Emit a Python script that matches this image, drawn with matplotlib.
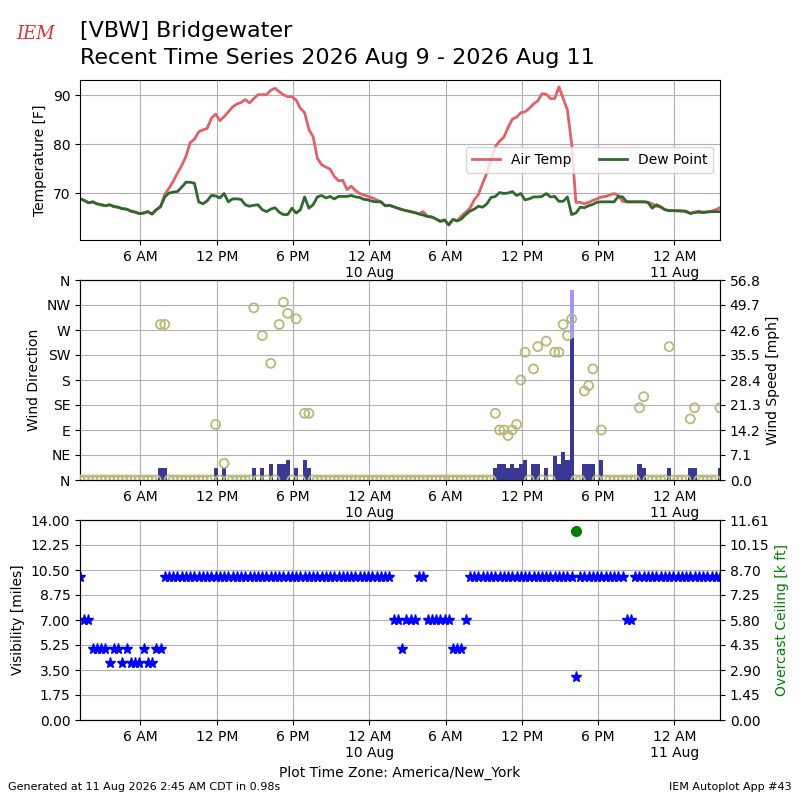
import datetime
import numpy as np
import matplotlib
matplotlib.use("Agg")
import matplotlib.pyplot as plt
import matplotlib.dates as mdates
from matplotlib.ticker import FuncFormatter

##------------------------------DATA-----------------------------------##
# AWOS obs every 20 minutes, local time (America/New_York)
start = datetime.datetime(2026, 8, 9, 1, 15)

tmpf = [68.8, 68.5, 68.0, 68.2, 67.8, 67.6, 67.4, 67.6, 67.3, 67.1, 66.8, 66.7,
        66.3, 66.1, 65.8, 65.9, 66.2, 65.7, 66.6, 67.2,
        69.7, 71.0, 72.4, 74.1, 75.6, 77.5, 80.3, 81.0, 82.5, 82.9, 83.2, 85.3,
        86.1, 84.8, 85.6, 86.6, 87.6, 88.2, 88.5, 89.1, 88.4, 89.3, 90.1, 90.1,
        90.1, 91.0, 91.4, 90.7, 90.1, 89.7, 89.7, 89.0,
        87.3, 86.4, 83.0, 81.5, 77.1, 75.8, 75.3, 74.9, 73.4, 72.5, 72.6, 70.7,
        71.4, 70.5, 69.9, 69.6, 69.3, 69.0, 68.6, 68.2,
        67.4, 67.5, 67.2, 66.9, 66.6, 66.4, 66.2, 66.0, 65.8, 66.2, 65.2, 65.1,
        64.7, 64.2, 64.5, 63.5, 64.6, 64.3,
        65.3, 66.1, 66.9, 68.6, 69.7, 72.0, 74.1, 76.8, 79.5, 80.6, 81.4, 83.4,
        85.1, 85.5, 86.4, 86.6, 87.3, 88.2, 88.8, 90.3, 90.2, 89.3, 89.3, 91.7,
        89.3, 87.0, 80.0, 68.1, 68.1, 67.8, 68.1, 68.5, 68.8, 69.2, 69.3, 69.6,
        69.9, 69.5, 68.3, 68.2, 68.2, 68.2, 68.2, 68.2, 68.1, 67.8, 67.3, 67.1,
        66.6, 66.4, 66.4, 66.3, 66.4, 66.1, 65.9, 66.1, 66.3, 66.1, 66.2, 66.3,
        66.6, 67.0]

dwpf = [68.8, 68.5, 68.0, 68.2, 67.8, 67.6, 67.4, 67.6, 67.2, 67.1, 66.8, 66.7,
        66.3, 66.1, 65.8, 65.9, 66.2, 65.7, 66.6, 67.2,
        69.2, 70.0, 70.2, 70.3, 71.2, 72.2, 72.2, 72.0, 68.2, 67.8, 68.4, 69.5,
        69.4, 69.0, 69.9, 68.2, 68.8, 68.8, 68.7, 67.6, 67.3, 67.5, 67.6, 66.6,
        66.2, 66.7, 67.0, 66.1, 65.6, 65.6, 66.9, 65.9,
        66.6, 69.2, 66.9, 67.6, 69.2, 69.5, 69.0, 69.3, 68.8, 69.3, 69.3, 69.3,
        69.5, 69.2, 69.1, 68.7, 68.6, 68.3, 68.2, 68.2,
        67.4, 67.5, 67.2, 66.9, 66.6, 66.4, 66.2, 66.0, 65.7, 65.5, 65.2, 65.1,
        64.7, 64.2, 64.5, 63.5, 64.6, 64.3,
        64.7, 65.6, 66.3, 66.7, 67.3, 67.1, 67.8, 69.1, 69.3, 70.1, 69.9, 70.0,
        70.3, 69.5, 69.9, 68.6, 68.8, 69.2, 69.2, 69.3, 69.9, 69.2, 69.3, 68.3,
        68.3, 69.2, 65.6, 65.9, 67.1, 67.0, 67.4, 67.7, 68.1, 68.2, 68.2, 68.2,
        68.2, 69.3, 69.2, 68.2, 68.2, 68.2, 68.2, 68.2, 68.1, 66.9, 67.6, 67.2,
        66.6, 66.4, 66.4, 66.4, 66.3, 66.3, 65.8, 66.0, 66.1, 66.0, 66.1, 66.2,
        66.2, 66.2]

# non-calm wind obs (index into obs list), everything else reported calm
wind_idx = [19, 20, 32, 34, 41, 43, 45, 47, 48, 49, 51, 53, 54,
            98, 99, 100, 101, 102, 103, 104, 105, 107, 108, 110, 112, 113,
            114, 115, 116, 119, 120, 121, 123, 132, 133, 139, 144, 145, 151]
wind_drct = [280, 280, 100, 30, 310, 260, 210, 280, 320, 300, 290, 120, 120,
             120, 90, 90, 80, 90, 100, 180, 230, 200, 240, 250, 230, 230,
             280, 260, 290, 160, 170, 200, 90, 130, 150, 240, 110, 130, 130]
wind_sknt = [3, 3, 3, 3, 3, 3, 4, 4, 4, 5, 3, 5, 3,
             3, 4, 4, 3, 4, 3, 4, 5, 4, 4, 3, 6, 4,
             7, 5, 35, 4, 4, 4, 5, 4, 3, 3, 3, 3, 3]
gust_idx = [116]
gust_sknt = [47]

vsby = [10, 7, 7, 5, 5, 5, 5, 4, 5, 5, 4, 5, 4, 4, 4, 5, 4, 4, 5, 5,
        10, 10, 10, 10, 10, 10, 10, 10, 10, 10, 10, 10, 10, 10, 10, 10, 10, 10,
        10, 10, 10, 10, 10, 10, 10, 10, 10, 10, 10, 10, 10, 10, 10, 10, 10, 10,
        10, 10, 10, 10, 10, 10, 10, 10, 10, 10, 10, 10, 10, 10, 10, 10, 10, 10,
        7, 7, 5, 7, 7, 7, 10, 10, 7, 7, 7, 7, 7, 7, 5, 5, 5, 7,
        10, 10, 10, 10, 10, 10, 10, 10, 10, 10, 10, 10, 10, 10, 10, 10, 10, 10,
        10, 10, 10, 10, 10, 10, 10, 3, 10, 10, 10, 10, 10, 10, 10, 10, 10, 10,
        10, 7, 7, 10, 10, 10, 10, 10, 10, 10, 10, 10, 10, 10, 10, 10, 10, 10,
        10, 10, 10, 10, 10, 10]

ceil_idx = [117]
ceil_kft = [11.0]

dir_labels = ['N', 'NE', 'E', 'SE', 'S', 'SW', 'W', 'NW', 'N']
ceil_ticklabels = ['0.00', '1.45', '2.90', '4.35', '5.80', '7.25', '8.70',
                   '10.15', '11.61']

##------------------------------PREP-----------------------------------##
n = len(tmpf)
valid = [start + datetime.timedelta(minutes=20 * i) for i in range(n)]
valid_arr = np.array(valid)
drct = np.zeros(n)
sknt = np.zeros(n)
drct[wind_idx] = wind_drct
sknt[wind_idx] = wind_sknt
smph = sknt * 1.15078
gmph = np.array(gust_sknt) * 1.15078
barw = 20.0 / 1440.0


def time_fmt(x, pos=None):
    dt = mdates.num2date(x)
    if dt.hour == 0:
        return "12 AM\n" + dt.strftime("%-d %b")
    return dt.strftime("%-I %p")


def setup_time(ax):
    ax.xaxis.set_major_locator(mdates.HourLocator(byhour=[0, 6, 12, 18]))
    ax.xaxis.set_major_formatter(FuncFormatter(time_fmt))
    ax.set_xlim(valid[0], valid[-1])


##------------------------------PLOT-----------------------------------##
fig = plt.figure(figsize=(8, 8), dpi=100)

fig.text(0.1, 0.954, "[VBW] Bridgewater", fontsize=16, va='baseline')
fig.text(0.1, 0.92, "Recent Time Series 2026 Aug 9 - 2026 Aug 11", fontsize=16,
         va='baseline')
fig.text(0.044, 0.951, "IEM", fontsize=13, color='#dd3333', style='italic',
         family='DejaVu Serif', ha='center', va='baseline')
fig.text(0.01, 0.012, "Generated at 11 Aug 2026 2:45 AM CDT in 0.98s", fontsize=8)
fig.text(0.99, 0.012, "IEM Autoplot App #43", fontsize=8, ha='right')

# temperature
ax1 = fig.add_axes([0.1, 0.7, 0.8, 0.2])
ax1.plot(valid, tmpf, color='#e0616a', lw=2, label='Air Temp')
ax1.plot(valid, dwpf, color='#2e6a30', lw=2, label='Dew Point')
ax1.set_ylim(60.4, 93.1)
ax1.set_yticks([70, 80, 90])
ax1.set_ylabel("Temperature [F]")
ax1.grid(True)
setup_time(ax1)
ax1.legend(loc='center right', ncol=2)

# wind
ax2 = fig.add_axes([0.1, 0.4, 0.8, 0.25])
ax2b = ax2.twinx()
ax2.set_zorder(ax2b.get_zorder() + 1)
ax2.patch.set_visible(False)
ax2b.bar(valid_arr[gust_idx], gmph, width=barw, color='#9999ff', zorder=2)
ax2b.bar(valid, smph, width=barw, color='#393993', zorder=3)
ax2.scatter(valid, drct, s=42, facecolor='none', edgecolor='#b8b87a', lw=1.3,
            zorder=4)
ax2.set_ylim(0, 360)
ax2.set_yticks(range(0, 361, 45))
ax2.set_yticklabels(dir_labels)
ax2.set_ylabel("Wind Direction")
ax2b.set_ylim(0, 56.8)
ax2b.set_yticks(np.linspace(0, 56.8, 9))
ax2b.yaxis.set_major_formatter(FuncFormatter(lambda v, p: "%.1f" % v))
ax2b.set_ylabel("Wind Speed [mph]")
ax2b.xaxis.set_visible(True)
ax2b.tick_params(axis='x', bottom=False, labelbottom=False)
ax2b.grid(True)
setup_time(ax2)
setup_time(ax2b)

# visibility / ceiling
ax3 = fig.add_axes([0.1, 0.1, 0.8, 0.25])
ax3.plot(valid, vsby, '*', color='b', ms=8, zorder=3)
ax3.set_ylim(0, 14)
ax3.set_yticks(np.arange(0, 14.01, 1.75))
ax3.yaxis.set_major_formatter(FuncFormatter(lambda v, p: "%.2f" % v))
ax3.set_ylabel("Visibility [miles]")
ax3.grid(True)
ax3.set_xlabel("Plot Time Zone: America/New_York")
ax3b = ax3.twinx()
ax3b.plot(valid_arr[ceil_idx], ceil_kft, 'o', color='g', ms=7)
ax3b.set_ylim(0, 11.61)
ax3b.set_yticks(np.linspace(0, 11.61, 9))
ax3b.set_yticklabels(ceil_ticklabels)
ax3b.set_ylabel("Overcast Ceiling [k ft]", color='g')
setup_time(ax3)

fig.savefig("out.png", dpi=100)
